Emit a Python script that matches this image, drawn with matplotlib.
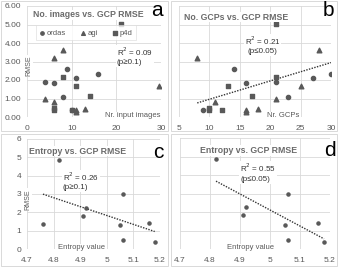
import matplotlib
matplotlib.use('Agg')
import matplotlib.pyplot as plt
from matplotlib.patches import Rectangle
import numpy as np

# panel a / b: RMSE per software, vs number of images and number of GCPs
ordas_img = [4, 6, 8, 9, 11, 16, 10]
ordas_gcp = [21, 16, 23, 14, 27, 30, 9]
ordas_rmse = [1.91, 1.84, 1.08, 2.58, 2.09, 2.31, 0.36]

agi_img = [4, 6, 8, 6, 11, 13, 29.5, 11]
agi_gcp = [21, 8, 28, 11, 16, 18, 25, 16]
agi_rmse = [0.99, 3.20, 3.64, 0.81, 0.27, 0.43, 1.70, 0.40]

p4d_img = [21, 8, 11, 14, 6, 6, 10]
p4d_gcp = [21, 21, 13, 17, 10, 10, 12]
p4d_rmse = [5.05, 2.18, 1.66, 1.16, 0.47, 0.36, 0.40]

# trend line of panel b
gcp_trend_x = [8, 30]
gcp_trend_y = [0.76, 2.94]

# panel c / d: entropy vs RMSE (d leaves out the first point)
entropy = [4.76, 4.82, 4.91, 4.92, 5.05, 5.06, 5.06, 5.16, 5.18]
entropy_rmse = [1.36, 4.87, 1.82, 2.25, 1.29, 3.00, 0.47, 1.40, 0.38]

W, H = 338, 267
TXT = '#595959'
TITULO = '#6b6b6b'
GRID = '#d9d9d9'
MARK = '#595959'

plt.rcParams['font.family'] = ['Liberation Sans', 'DejaVu Sans']

fig = plt.figure(figsize=(W / 100, H / 100), dpi=100)


def px_axes(x0, x1, y0, y1):
    return fig.add_axes([x0 / W, 1 - y1 / H, (x1 - x0) / W, (y1 - y0) / H])


def estilo(ax, xlim, xticks, yticks, ylabels, fmt):
    ax.set_xlim(*xlim)
    ax.set_ylim(0, 6)
    ax.set_xticks(xticks)
    ax.set_yticks(yticks)
    ax.set_xticklabels([('%g' % t) for t in xticks])
    if ylabels:
        ax.set_yticklabels([fmt % t for t in yticks])
    else:
        ax.set_yticklabels([])
    ax.tick_params(labelsize=6, colors=TXT, length=0, pad=4)
    ax.tick_params(axis='x', pad=6)
    for s in ax.spines.values():
        s.set_visible(False)
    ax.grid(True, color=GRID, linewidth=0.6)
    ax.set_axisbelow(True)
    ax.patch.set_alpha(0)


def rotulo(ax, x, y, texto, **kw):
    ax.text(x, y, texto, transform=ax.transAxes, fontsize=kw.pop('fontsize', 5.5),
            color=kw.pop('color', TXT),
            bbox=dict(facecolor='white', edgecolor='none', pad=0.6), **kw)


def tendencia(ax, x, y):
    ax.plot(x, y, linestyle=(0, (1, 1)), color='#333333', linewidth=1, zorder=2)


# panel borders
for (x0, y0, x1, y1) in [(1, 1, 168, 131), (171, 1, 337, 131), (1, 134, 168, 266), (171, 134, 337, 266)]:
    fig.patches.append(Rectangle((x0 / W, 1 - y1 / H), (x1 - x0) / W, (y1 - y0) / H,
                                 transform=fig.transFigure, facecolor='none',
                                 edgecolor='#d9d9d9', linewidth=0.7))

# ---- a
ax = px_axes(27, 161, 6, 117)
estilo(ax, (0, 30), [0, 10, 20, 30], range(7), True, '%.2f')
ax.scatter(ordas_img, ordas_rmse, marker='o', s=9, color=MARK, label='ordas', zorder=3)
ax.scatter(agi_img, agi_rmse, marker='^', s=11, color=MARK, label='agi', zorder=3)
ax.scatter(p4d_img, p4d_rmse, marker='s', s=9, color=MARK, label='p4d', zorder=3)
leg = ax.legend(loc='upper left', bbox_to_anchor=(0.035, 0.86), ncol=3, fontsize=5.5,
                frameon=True, handletextpad=0.2, columnspacing=1.8, borderpad=0.5,
                handlelength=0.8, markerscale=0.8)
leg.get_frame().set_edgecolor(GRID)
leg.get_frame().set_linewidth(0.5)
leg.get_frame().set_boxstyle('square', pad=0)
for t in leg.get_texts():
    t.set_color(TXT)
rotulo(ax, 0.045, 0.92, 'No. images vs. GCP RMSE', fontsize=6.3, fontweight='bold',
       color=TITULO, va='center')
rotulo(ax, 0.67, 0.55, 'R$^2$ = 0.09\n(p\u22650.1)', fontsize=5.8, color='#333333',
       ha='left', va='center', linespacing=1.3)
rotulo(ax, 0.58, 0.01, 'Nr. input images', ha='left', va='center')
rotulo(ax, 0.012, 0.46, 'RMSE', rotation=90, ha='center', va='center', fontsize=5)
fig.text(163 / W, 1 - 10 / H, 'a', fontsize=15, ha='right', va='center')

# ---- b
ax = px_axes(179, 331, 6, 117)
estilo(ax, (5, 30), [5, 10, 15, 20, 25, 30], range(7), False, '%.2f')
ax.scatter(ordas_gcp, ordas_rmse, marker='o', s=9, color=MARK, zorder=3)
ax.scatter(agi_gcp, agi_rmse, marker='^', s=11, color=MARK, zorder=3)
ax.scatter(p4d_gcp, p4d_rmse, marker='s', s=9, color=MARK, zorder=3)
tendencia(ax, gcp_trend_x, gcp_trend_y)
rotulo(ax, 0.03, 0.9, 'No. GCPs vs. GCP RMSE', fontsize=6.3, fontweight='bold',
       color=TITULO, va='center')
rotulo(ax, 0.55, 0.65, 'R$^2$ = 0.21\n(p\u22640.05)', fontsize=5.8, color='#333333',
       ha='center', va='center', linespacing=1.3)
rotulo(ax, 0.58, 0.01, 'Nr. GCPs', ha='left', va='center')
fig.text(334 / W, 1 - 10 / H, 'b', fontsize=15, ha='right', va='center')

# ---- c
ax = px_axes(27, 160, 139, 249)
estilo(ax, (4.7, 5.2), [4.7, 4.8, 4.9, 5.0, 5.1, 5.2], range(7), True, '%d')
ax.scatter(entropy, entropy_rmse, marker='o', s=5, color=MARK, zorder=3)
k = np.polyfit(entropy, entropy_rmse, 1)
xx = np.array([min(entropy), max(entropy)])
tendencia(ax, xx, np.polyval(k, xx))
rotulo(ax, 0.015, 0.89, 'Entropy vs. GCP RMSE', fontsize=6.3, fontweight='bold',
       color=TITULO, va='center')
rotulo(ax, 0.27, 0.62, 'R$^2$ = 0.26\n(p\u22650.1)', fontsize=5.8, color='#333333',
       ha='left', va='center', linespacing=1.3)
rotulo(ax, 0.23, 0.01, 'Entropy value', ha='left', va='center')
rotulo(ax, 0.005, 0.45, 'RMSE', rotation=90, ha='center', va='center', fontsize=5)
fig.text(163 / W, 1 - 152 / H, 'c', fontsize=15, ha='right', va='center')

# ---- d
ax = px_axes(180, 330, 138, 249)
estilo(ax, (4.7, 5.2), [4.7, 4.8, 4.9, 5.0, 5.1, 5.2], range(7), False, '%d')
ax.scatter(entropy[1:], entropy_rmse[1:], marker='o', s=5, color=MARK, zorder=3)
k = np.polyfit(entropy[1:], entropy_rmse[1:], 1)
xx = np.array([min(entropy[1:]), max(entropy[1:])])
tendencia(ax, xx, np.polyval(k, xx))
rotulo(ax, 0.13, 0.89, 'Entropy vs. GCP RMSE', fontsize=6.3, fontweight='bold',
       color=TITULO, va='center')
rotulo(ax, 0.4, 0.69, 'R$^2$ = 0.55\n(p\u22640.05)', fontsize=5.8, color='#333333',
       ha='left', va='center', linespacing=1.3)
rotulo(ax, 0.31, 0.01, 'Entropy value', ha='left', va='center')
fig.text(336 / W, 1 - 150 / H, 'd', fontsize=15, ha='right', va='center')

fig.savefig('out.png', dpi=100)
